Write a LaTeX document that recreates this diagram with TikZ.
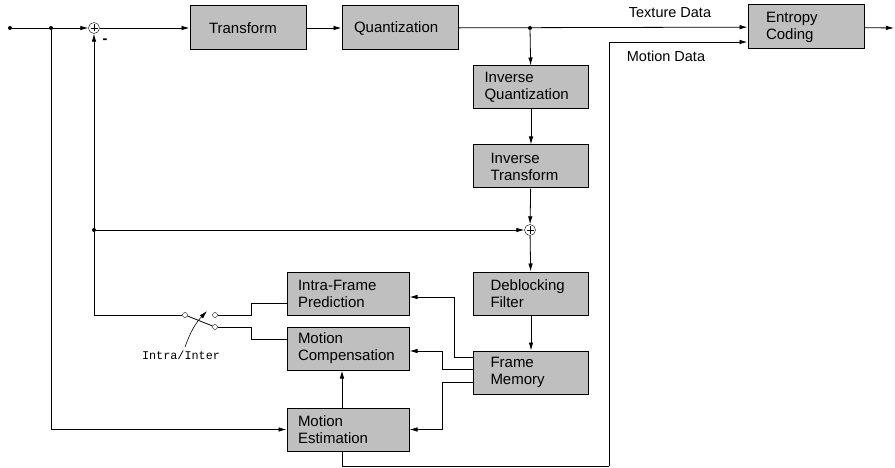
\documentclass[tikz,border=0pt]{standalone}
\usepackage{fontspec}
\setmainfont{Liberation Sans}
\setmonofont{Liberation Mono}
\usepackage{tikz}
\usetikzlibrary{arrows.meta, positioning, calc}

\begin{document}
\begin{tikzpicture}[
    x=1pt, y=-1pt,
    box/.style={rectangle, draw=black, line width=1pt, fill=gray!50,
                minimum height=43pt, inner xsep=12pt, align=left,
                font=\fontsize{15}{17}\selectfont},
    sum/.style={circle, draw, fill=white, minimum size=11pt, inner sep=0pt,
                path picture={\draw
                  ([xshift=-3.5pt]path picture bounding box.center) -- ([xshift=3.5pt]path picture bounding box.center)
                  ([yshift=-3.5pt]path picture bounding box.center) -- ([yshift=3.5pt]path picture bounding box.center);}},
    dot/.style={circle, fill=black, inner sep=0pt, minimum size=4pt},
    pin/.style={circle, draw, fill=white, inner sep=0pt, minimum size=5pt},
    lbl/.style={font=\fontsize{14.5}{17}\selectfont},
    arr/.style={-{Latex[length=8pt, width=4.5pt]}, line width=0.8pt},
    wire/.style={line width=0.8pt}
]
\useasboundingbox[fill=white] (0,0) rectangle (895,468);

\node[dot] (indot) at (10,28) {};
\node[dot] (bdot) at (51,28) {};
\node[sum] (sub) at (94,28) {};
\node[lbl, font=\bfseries\fontsize{14.5}{17}\selectfont] (minus) at (105,41) {-};

\node[box, minimum height=44pt, inner xsep=19pt, text width=78pt] (tf) at (248,28) {Transform};
\node[box, minimum height=44pt, text width=92pt] (quant) at (400,28) {Quantization};
\node[dot] (qdot) at (530,28) {};
\node[box, minimum height=44pt, inner xsep=18pt, text width=80pt] (ec) at (806,27) {Entropy\\Coding};
\coordinate (out) at (894,28);

\node[lbl] (texture) at (670,13) {Texture Data};
\node[lbl] (motion) at (666,56) {Motion Data};

\node[box, inner xsep=11pt, text width=93pt] (iq) at (531,87.5) {Inverse\\Quantization};
\node[box, inner xsep=17pt, text width=81pt] (it) at (531,166.5) {Inverse\\Transform};
\node[sum] (add) at (530,230) {};
\node[box, inner xsep=17pt, text width=81pt] (df) at (531,293.5) {Deblocking\\Filter};
\node[box, inner xsep=17pt, text width=81pt] (fm) at (531,372.5) {Frame\\Memory};

\node[box, inner xsep=11pt, text width=100pt] (ip) at (348,293.5) {Intra-Frame\\Prediction};
\node[box, inner xsep=11pt, text width=100pt] (mc) at (348,348.5) {Motion\\Compensation};
\node[box, inner xsep=11pt, text width=100pt] (me) at (348,429.5) {Motion\\Estimation};

\node[dot] (fbdot) at (94,230) {};
\node[pin] (pole) at (185,315) {};
\node[pin] (ct1) at (215,315) {};
\node[pin] (ct2) at (215,327) {};
\node[font=\ttfamily\fontsize{11.8}{14}\selectfont] (swlbl) at (181,355) {Intra/Inter};
\coordinate (swtip) at (207,311);
\coordinate (mdcorner) at (609,466);

\draw[arr] (indot) -- (sub);
\draw[arr] (bdot) |- (me.west);
\draw[arr] (sub) -- (tf);
\draw[arr] (tf) -- (quant);
\draw[arr] (quant) -- (ec);
\draw[arr] (ec) -- (out);

\draw[arr] (qdot) -- (iq);
\draw[arr] (iq) -- (it);
\draw[arr] (it) -- (add);
\draw[arr] (add) -- (df);
\draw[arr] (df) -- (fm);

\draw[arr] (fbdot) -- (add);
\draw[arr] (pole) -| (sub);
\draw[wire] (pole) -- (ct2);
\draw[arr, line width=0.6pt] ([xshift=4pt]swlbl.north) to[bend left=12] (swtip);
\draw[wire] (ct1) -- ++(36,0) |- ($(ip.west)+(0,9.5)$);
\draw[wire] (ct2) -- ++(36,0) |- ($(mc.west)+(0,-9.5)$);

\draw[arr] ($(fm.west)+(0,-15.5)$) -| ++(-19,0) |- ($(ip.east)+(0,3.5)$);
\draw[arr] ($(fm.west)+(0,-3.5)$) -| ++(-31,0) |- ($(mc.east)+(0,2.5)$);
\draw[arr] ($(fm.west)+(0,9.5)$) -| ++(-31,0) |- (me.east);

\draw[arr] ($(me.north)+(-6,0)$) -- ($(mc.south)+(-6,0)$);
\draw[wire] ($(me.south)+(-6,0)$) |- (mdcorner);
\draw[arr] (mdcorner) |- ($(ec.west)+(0,15)$);

\end{tikzpicture}
\end{document}
